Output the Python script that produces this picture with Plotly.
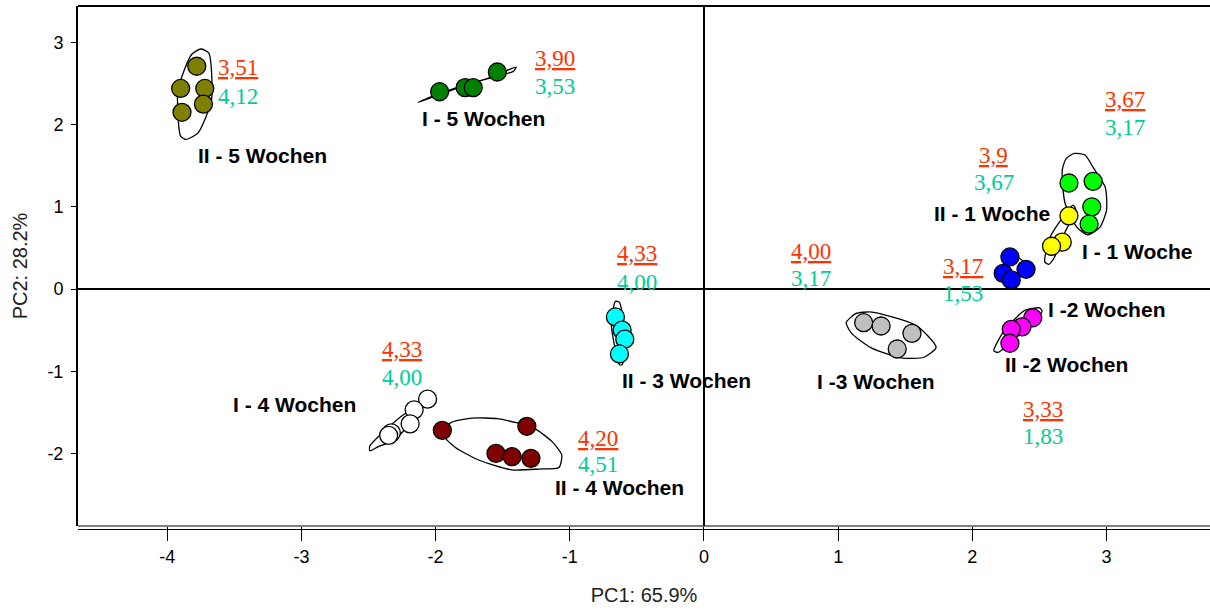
import plotly.graph_objects as go

# ---------------- data ----------------
group_names = ["II - 5 Wochen", "I - 5 Wochen", "I - 1 Woche", "II - 1 Woche", "I -2 Wochen",
               "II -2 Wochen", "I -3 Wochen", "II - 3 Wochen", "I - 4 Wochen", "II - 4 Wochen"]
group_colors = ["#808000", "#008000", "#00FF00", "#FFFF00", "#0000FF",
                "#FF00FF", "#C0C0C0", "#00FFFF", "#FFFFFF", "#800000"]

pc1_values = [
    [-3.78, -3.90, -3.72, -3.73, -3.89],
    [-1.97, -1.78, -1.72, -1.54],
    [2.72, 2.90, 2.89, 2.87],
    [2.72, 2.67, 2.59],
    [2.28, 2.40, 2.23, 2.29],
    [2.45, 2.37, 2.29, 2.28],
    [1.19, 1.32, 1.55, 1.44],
    [-0.66, -0.61, -0.59, -0.63],
    [-2.06, -2.16, -2.19, -2.33, -2.35],
    [-1.95, -1.32, -1.55, -1.43, -1.29],
]
pc2_values = [
    [2.71, 2.44, 2.44, 2.25, 2.15],
    [2.40, 2.45, 2.45, 2.64],
    [1.29, 1.31, 1.00, 0.79],
    [0.89, 0.57, 0.52],
    [0.39, 0.24, 0.19, 0.11],
    [-0.35, -0.46, -0.49, -0.66],
    [-0.41, -0.45, -0.54, -0.73],
    [-0.34, -0.50, -0.61, -0.79],
    [-1.34, -1.47, -1.64, -1.75, -1.78],
    [-1.72, -1.67, -2.00, -2.04, -2.06],
]

# outline (hull) vertices around each group
hull_pc1 = [
    [-3.90, -3.86, -3.77, -3.67, -3.69, -3.75, -3.82, -3.92, -3.90],
    [-2.13, -1.95, -1.55, -1.40, -1.42, -1.75, -2.05, -2.13],
    [2.76, 2.70, 2.67, 2.69, 2.78, 2.86, 2.95, 3.00, 2.99, 2.90, 2.84, 2.76],
    [2.75, 2.77, 2.69, 2.61, 2.57, 2.54, 2.57, 2.66, 2.75],
    [2.20, 2.22, 2.28, 2.42, 2.30, 2.20],
    [2.16, 2.19, 2.52, 2.50, 2.39, 2.24, 2.16],
    [1.06, 1.13, 1.25, 1.58, 1.73, 1.64, 1.48, 1.25, 1.10, 1.06],
    [-0.67, -0.66, -0.63, -0.60, -0.58, -0.61, -0.63, -0.69, -0.67],
    [-2.49, -2.49, -2.24, -2.09, -2.12, -2.31, -2.43, -2.49],
    [-1.93, -1.89, -1.73, -1.53, -1.27, -1.13, -1.06, -1.08, -1.23, -1.43, -1.68, -1.85, -1.93],
]
hull_pc2 = [
    [1.86, 1.82, 1.90, 2.30, 2.87, 2.92, 2.85, 2.42, 1.86],
    [2.27, 2.38, 2.60, 2.70, 2.65, 2.50, 2.33, 2.27],
    [1.65, 1.59, 1.45, 1.05, 0.75, 0.66, 0.75, 0.96, 1.24, 1.48, 1.63, 1.65],
    [1.02, 0.97, 0.69, 0.38, 0.30, 0.33, 0.60, 0.84, 1.02],
    [0.12, 0.25, 0.42, 0.28, 0.08, 0.12],
    [-0.75, -0.77, -0.27, -0.23, -0.26, -0.50, -0.75],
    [-0.41, -0.30, -0.28, -0.44, -0.71, -0.83, -0.84, -0.72, -0.54, -0.41],
    [-0.19, -0.15, -0.16, -0.38, -0.60, -0.92, -0.92, -0.44, -0.19],
    [-1.97, -1.91, -1.53, -1.41, -1.50, -1.84, -1.92, -1.97],
    [-1.80, -1.63, -1.57, -1.58, -1.69, -1.86, -2.02, -2.17, -2.19, -2.20, -2.08, -1.93, -1.80],
]

# group label positions
label_pc1 = [-3.29, -1.64, 3.23, 2.15, 3.00, 2.70, 1.28, -0.13, -3.05, -0.63]
label_pc2 = [1.63, 2.08, 0.46, 0.92, -0.25, -0.92, -1.13, -1.11, -1.40, -2.42]

# score pairs (red underlined over green)
score_red = ["3,51", "3,90", "3,67", "3,9", "4,33", "4,00", "3,17", "3,33", "4,33", "4,20"]
score_green = ["4,12", "3,53", "3,17", "3,67", "4,00", "3,17", "1,53", "1,83", "4,00", "4,51"]
score_pc1 = [-3.47, -1.11, 3.14, 2.16, -0.50, 0.80, 1.93, 2.53, -2.25, -0.79]
score_red_pc2 = [2.69, 2.81, 2.31, 1.63, 0.43, 0.46, 0.27, -1.46, -0.74, -1.82]
score_green_pc2 = [2.34, 2.46, 1.97, 1.29, 0.085, 0.13, -0.06, -1.80, -1.08, -2.14]

x_ticks = [-4, -3, -2, -1, 0, 1, 2, 3]
y_ticks = [-2, -1, 0, 1, 2, 3]

# ---------------- figure ----------------
fig = go.Figure()

for i in range(len(group_names)):
    fig.add_trace(go.Scatter(
        x=hull_pc1[i], y=hull_pc2[i], mode="lines",
        line=dict(color="black", width=1.3, shape="spline", smoothing=0.6),
        hoverinfo="skip", showlegend=False))

for i, name in enumerate(group_names):
    fig.add_trace(go.Scatter(
        x=pc1_values[i], y=pc2_values[i], mode="markers", name=name,
        marker=dict(size=18, color=group_colors[i], line=dict(color="black", width=1.3)),
        showlegend=False))

annotations = []
for i, name in enumerate(group_names):
    annotations.append(dict(
        x=label_pc1[i], y=label_pc2[i], text="<b>" + name + "</b>", showarrow=False,
        font=dict(family="Arial, Liberation Sans, sans-serif", size=21, color="black"),
        xanchor="center", yanchor="middle"))

serif = "Times New Roman, Liberation Serif, serif"
for i in range(len(score_red)):
    annotations.append(dict(
        x=score_pc1[i], y=score_red_pc2[i], text="<u>" + score_red[i] + "</u>", showarrow=False,
        font=dict(family=serif, size=23, color="#FF3300"), xanchor="center", yanchor="middle"))
    annotations.append(dict(
        x=score_pc1[i], y=score_green_pc2[i], text=score_green[i], showarrow=False,
        font=dict(family=serif, size=23, color="#00CC99"), xanchor="center", yanchor="middle"))

shapes = [
    # top frame line
    dict(type="line", xref="paper", yref="paper", x0=0, x1=1, y0=1, y1=1,
         line=dict(color="black", width=2)),
    # double bottom line
    dict(type="line", xref="paper", yref="paper", x0=0, x1=1, y0=0, y1=0,
         line=dict(color="black", width=1.2)),
    dict(type="line", xref="paper", yref="paper", x0=0, x1=1, y0=-3.5, y1=-3.5,
         ysizemode="pixel", yanchor=0, line=dict(color="black", width=1.2)),
]

fig.update_layout(
    width=1210, height=610,
    margin=dict(l=78, r=0, t=6, b=84),
    paper_bgcolor="white", plot_bgcolor="white",
    annotations=annotations, shapes=shapes,
    font=dict(family="Arial, Liberation Sans, sans-serif", color="black"),
)
fig.update_xaxes(
    range=[-4.665, 3.771], tickvals=x_ticks, ticktext=[str(v) for v in x_ticks],
    showgrid=False, zeroline=True, zerolinecolor="black", zerolinewidth=1.5,
    showline=False, ticks="outside", ticklen=14, tickwidth=1, tickcolor="black",
    tickfont=dict(size=18, color="black"), automargin=False,
    title=dict(text="PC1: 65.9%", font=dict(size=20, color="#222222"), standoff=22),
)
fig.update_yaxes(
    range=[-2.883, 3.443], tickvals=y_ticks, ticktext=[str(v) for v in y_ticks],
    showgrid=False, zeroline=True, zerolinecolor="black", zerolinewidth=1.5,
    showline=True, linecolor="black", linewidth=2, ticks="outside", ticklen=5,
    tickwidth=1, tickcolor="black", tickfont=dict(size=18, color="black"),
    ticklabelstandoff=4, automargin=False,
    title=dict(text="PC2: 28.2%", font=dict(size=20, color="#222222"), standoff=14),
)

fig.write_html("out.html", config={"displayModeBar": False},
               post_script="document.body.style.margin='0px';document.body.style.overflow='hidden';")
